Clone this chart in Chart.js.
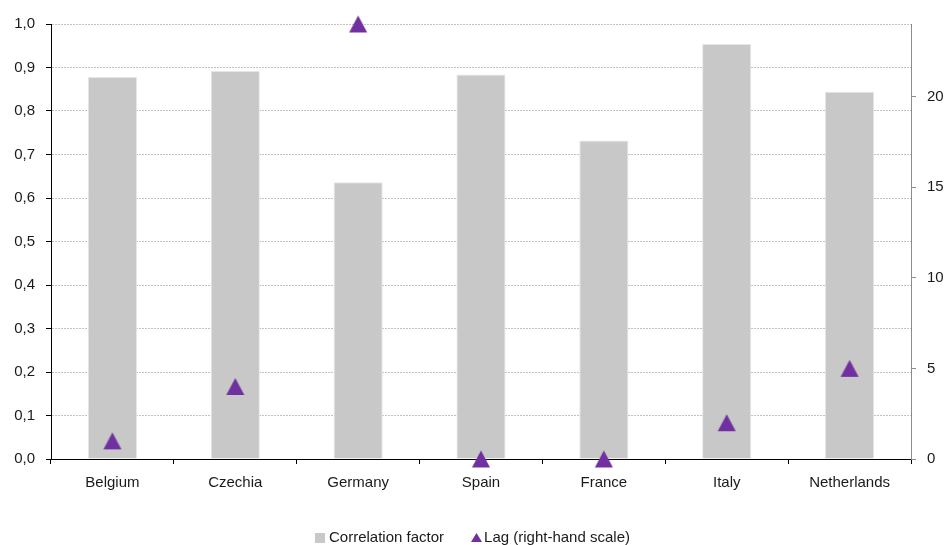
<!DOCTYPE html>
<html>
<head>
<meta charset="utf-8">
<script src="https://cdn.jsdelivr.net/npm/chart.js@4/dist/chart.umd.min.js"></script>
<style>
  html, body { margin: 0; padding: 0; background: #fff; }
  #wrap { width: 945px; height: 545px; position: relative; }
</style>
</head>
<body>
<div id="wrap"><canvas id="c" width="945" height="545"></canvas></div>
<script>
const categories = ['Belgium', 'Czechia', 'Germany', 'Spain', 'France', 'Italy', 'Netherlands'];
const correlationFactor = [0.878, 0.892, 0.636, 0.884, 0.732, 0.954, 0.844];
const lagMonths = [1, 4, 24, 0, 0, 2, 5];
const leftTicks = [0, 0.1, 0.2, 0.3, 0.4, 0.5, 0.6, 0.7, 0.8, 0.9, 1.0];
const rightTicks = [0, 5, 10, 15, 20];
const seriesNames = ['Correlation factor', 'Lag (right-hand scale)'];

const FONT = '"Liberation Sans", Arial, sans-serif';
const TEXT = '#1a1a1a';
const BAR = '#c8c8c8';
const PURPLE = '#7030a0';

function triangleCanvas(w, h) {
  const c = document.createElement('canvas');
  c.width = w + 2; c.height = h + 2;
  const x = c.getContext('2d');
  x.fillStyle = PURPLE;
  x.beginPath();
  x.moveTo(1, h + 1);
  x.lineTo(w + 1, h + 1);
  x.lineTo(w / 2 + 1, 1);
  x.closePath();
  x.fill();
  return c;
}
const triMarker = triangleCanvas(18, 17);
const triLegend = triangleCanvas(11, 9);

const legendPlugin = {
  id: 'customLegend',
  afterDraw(chart) {
    const ctx = chart.ctx;
    ctx.save();
    ctx.font = '15px ' + FONT;
    ctx.fillStyle = TEXT;
    ctx.textBaseline = 'alphabetic';
    const w1 = ctx.measureText(seriesNames[0]).width;
    const w2 = ctx.measureText(seriesNames[1]).width;
    const total = 10 + 4 + w1 + 26 + 12 + 2 + w2;
    let x = (chart.width - total) / 2;
    const base = 542;
    ctx.fillStyle = BAR;
    ctx.fillRect(Math.round(x), 533, 10, 10);
    x += 14;
    ctx.fillStyle = TEXT;
    ctx.fillText(seriesNames[0], x, base);
    x += w1 + 26;
    ctx.drawImage(triLegend, Math.round(x), 532);
    x += 14;
    ctx.fillText(seriesNames[1], x, base);
    ctx.restore();
  }
};

new Chart(document.getElementById('c'), {
  data: {
    labels: categories,
    datasets: [
      {
        type: 'line',
        label: seriesNames[1],
        data: lagMonths,
        yAxisID: 'y2',
        showLine: false,
        pointStyle: triMarker,
        pointRadius: 10,
        pointHoverRadius: 10,
        backgroundColor: PURPLE,
        borderColor: PURPLE,
        order: 0,
        clip: false
      },
      {
        type: 'bar',
        label: seriesNames[0],
        data: correlationFactor,
        yAxisID: 'y',
        backgroundColor: BAR,
        borderColor: '#e6e6e6',
        borderWidth: 1,
        barPercentage: 0.4,
        categoryPercentage: 1.0,
        order: 1
      }
    ]
  },
  options: {
    responsive: false,
    animation: false,
    events: [],
    layout: { padding: { top: 24, left: 0, right: 0, bottom: 0 } },
    plugins: {
      legend: { display: false },
      tooltip: { enabled: false }
    },
    scales: {
      x: {
        type: 'category',
        offset: true,
        z: 1,
        grid: {
          offset: true,
          drawOnChartArea: false,
          drawTicks: true,
          tickLength: 5,
          tickColor: '#000',
          tickWidth: 1
        },
        border: { display: true, color: '#000', width: 1 },
        ticks: {
          color: TEXT,
          font: { family: FONT, size: 15 },
          padding: 10,
          maxRotation: 0,
          autoSkip: false
        },
        afterFit(scale) { scale.height = 86; }
      },
      y: {
        position: 'left',
        min: 0,
        max: 1,
        afterBuildTicks(scale) { scale.ticks = leftTicks.map(v => ({ value: v })); },
        grid: {
          color: '#c2c2c2',
          lineWidth: 1,
          drawTicks: true,
          tickLength: 5,
          tickColor: '#000',
          tickBorderDash: []
        },
        border: { display: true, color: '#000', width: 1, dash: [2, 1] },
        ticks: {
          color: TEXT,
          font: { family: FONT, size: 15 },
          padding: 11,
          callback: v => Number(v).toFixed(1).replace('.', ',')
        },
        afterFit(scale) { scale.width = 51; }
      },
      y2: {
        position: 'right',
        min: 0,
        max: 24,
        afterBuildTicks(scale) { scale.ticks = rightTicks.map(v => ({ value: v })); },
        grid: {
          drawOnChartArea: false,
          drawTicks: true,
          tickLength: 5,
          tickColor: '#8c8c8c'
        },
        border: { display: true, color: '#8c8c8c', width: 1 },
        ticks: {
          color: TEXT,
          font: { family: FONT, size: 15 },
          padding: 11,
          callback: v => String(v)
        },
        afterFit(scale) { scale.width = 34; }
      }
    }
  },
  plugins: [legendPlugin]
});
</script>
</body>
</html>
